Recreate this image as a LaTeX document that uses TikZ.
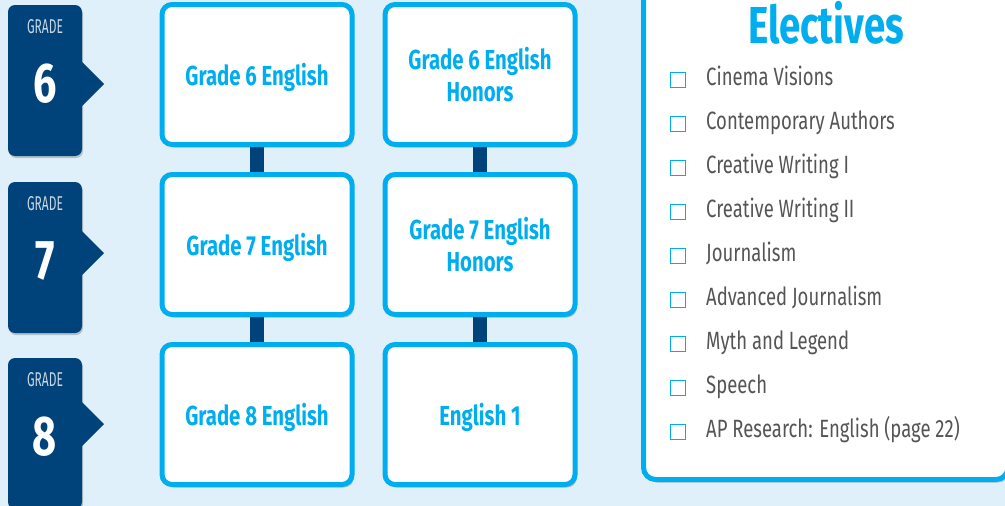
\documentclass[tikz,border=0pt]{standalone}
\usepackage{fontspec}
\setmainfont{Fira Sans}[FakeStretch=0.74]
\newfontfamily\gradefont{Fira Sans}[FakeStretch=0.6]
\usetikzlibrary{positioning,shadows,backgrounds}
\definecolor{skyblue}{HTML}{00AEEF}
\definecolor{navy}{HTML}{00427A}
\definecolor{paleblue}{HTML}{E0F0FA}
\definecolor{textgray}{HTML}{555555}
\definecolor{gradegray}{HTML}{C9D6E3}
\def\dx{28pt}
\def\dy{25pt}
\tikzstyle{course}=[draw=skyblue,fill=white,line width=5pt,rounded corners=10pt,
  minimum width=190pt,minimum height=140pt,align=center,text=skyblue,text depth=0pt,
  font=\fontsize{27.5}{32}\selectfont\bfseries,
  drop shadow={shadow xshift=2pt,shadow yshift=-3pt,opacity=.2,fill=black}]
\tikzstyle{link}=[draw=navy,line width=14pt]
\tikzstyle{tab}=[fill=navy]
\tikzstyle{gradelbl}=[anchor=base,inner sep=0pt,text=gradegray,font=\gradefont\fontsize{20}{20}\selectfont]
\tikzstyle{gradenum}=[anchor=base,inner sep=0pt,text=white,font=\fontsize{56}{56}\selectfont\bfseries]
\tikzstyle{checkbox}=[draw=skyblue,fill=white,line width=1pt,minimum size=15pt,inner sep=0pt]
\tikzstyle{elective}=[anchor=base west,inner sep=0pt,text=textgray,font=\fontsize{25}{30}\selectfont]
\newcommand{\newCourse}[3]{\node[course,#3](#1){#2};}
\newcommand{\newLink}[2]{\draw[link] (#1.south) -- (#2.north);}
\newcommand{\newTab}[4]{% name, grade, top, arrow tip
  \fill[tab,rounded corners=7pt,drop shadow={shadow xshift=1pt,shadow yshift=-2pt,opacity=.2,fill=black}]
    (8,#3) rectangle (82,#3+151);
  \fill[tab] (81,#4-23) -- (104,#4) -- (81,#4+23) -- cycle;
  \node[gradelbl] (#1lbl) at (45,#3+28) {GRADE};
  \node[gradenum] (#1num) at (45,#3+97) {#2};}

\begin{document}
\begin{tikzpicture}[x=1pt,y=-1pt,node distance=\dy and \dx]
  \useasboundingbox (0,0) rectangle (1005,506);
  \begin{scope}[on background layer]
    \fill[paleblue] (0,0) rectangle (1005,506);
  \end{scope}

  % grade tabs
  \newTab{t6}{6}{5}{84}
  \newTab{t7}{7}{182}{253}
  \newTab{t8}{8}{358}{424}

  % course boxes
  \newCourse{g6}{Grade 6 English}{at={(257,74.5)}}
  \newCourse{g6h}{Grade 6 English\\Honors}{right=of g6}
  \newCourse{g7}{Grade 7 English}{below=of g6}
  \newCourse{g7h}{Grade 7 English\\Honors}{right=of g7}
  \newCourse{g8}{Grade 8 English}{below=of g7}
  \newCourse{e1}{English 1}{right=of g8}
  \newLink{g6}{g7}
  \newLink{g7}{g8}
  \newLink{g6h}{g7h}
  \newLink{g7h}{e1}

  % electives panel
  \draw[draw=skyblue,fill=white,line width=5pt,rounded corners=12pt,
    drop shadow={shadow xshift=2pt,shadow yshift=-3pt,opacity=.2,fill=black}]
    (643.5,-20) rectangle (1008,479.5);
  \node[anchor=base,inner sep=0pt,text=skyblue,font=\fontsize{52}{52}\selectfont\bfseries]
    (elec) at (826,43) {Electives};
  \foreach \t [count=\i] in {Cinema Visions,Contemporary Authors,Creative Writing I,
      Creative Writing II,Journalism,Advanced Journalism,Myth and Legend,Speech,
      AP Research: English (page 22)}{
    \node[checkbox] (cb\i) at (678,{79.5+44*(\i-1)}) {};
    \node[elective] (el\i) at (706,{85+44*(\i-1)}) {\t};
  }
\end{tikzpicture}
\end{document}
